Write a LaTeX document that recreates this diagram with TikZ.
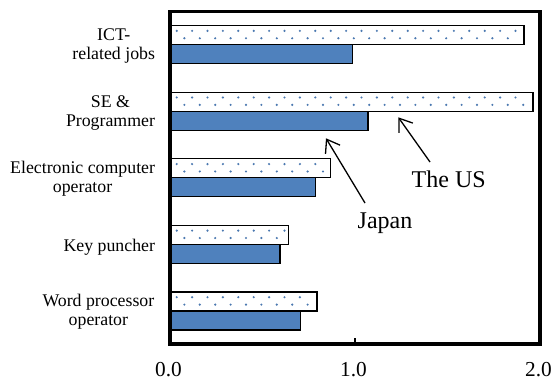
\documentclass[tikz,border=0pt]{standalone}
\usepackage{fontspec}
\setmainfont{Liberation Serif}
\usetikzlibrary{arrows.meta}
\definecolor{barblue}{HTML}{4F81BD}
\definecolor{dotblue}{HTML}{4A78B0}
\begin{document}
\begin{tikzpicture}[x=1pt,y=-1pt,
  frame/.style={line width=3.5pt},
  jpbar/.style={fill=barblue,draw=black,line width=1.2pt},
  usbar/.style={fill=white,draw=black,line width=1.2pt},
  cat/.style={font=\fontsize{17.8}{19}\selectfont,anchor=base,inner sep=0pt},
  ticklab/.style={font=\fontsize{21.3}{22}\selectfont,anchor=base,inner sep=0pt},
  ann/.style={font=\fontsize{24}{26}\selectfont,anchor=base,inner sep=0pt},
  pointer/.style={line width=1.3pt,-{Straight Barb[length=12pt,width=17pt]}}]
\useasboundingbox (0,0) rectangle (555,381);
\foreach \i/\us/\jp in {1/1.914/0.988,2/1.962/1.07,3/0.869/0.788,4/0.642/0.595,5/0.795/0.704}{
  \pgfmathsetmacro\c{11.3+66.58*(\i-0.5)}
  \pgfmathsetmacro\ux{170+185*\us}
  \pgfmathsetmacro\jx{170+185*\jp}
  \draw[usbar] (170,\c-19) rectangle (\ux,\c);
  \draw[jpbar] (170,\c) rectangle (\jx,\c+19);
  \pgfmathtruncatemacro\na{(\ux-3-176.7)/15.4}
  \pgfmathtruncatemacro\nb{(\ux-3-184.4)/15.4}
  \foreach \k in {0,...,\na} \fill[dotblue] (176.7+15.4*\k,\c-13.7) circle (1.2pt);
  \foreach \k in {0,...,\nb} \fill[dotblue] (184.4+15.4*\k,\c-6.3) circle (1.2pt);
}
\draw[frame] (170,11.3) rectangle (540,344.2);
\coordinate (tickbot) at (355,344.2);
\coordinate (ticktop) at (355,338);
\draw[line width=1.2pt] (tickbot) -- (ticktop);
% category labels
\node[cat] (ict1) at (113.7,40.6) {ICT-};
\node[cat] (ict2) at (113.7,59.6) {related jobs};
\node[cat] (se1) at (110.5,107.2) {SE \&};
\node[cat] (se2) at (110.5,126.2) {Programmer};
\node[cat] (ec1) at (82.6,173.7) {Electronic computer};
\node[cat] (ec2) at (82.6,192.7) {operator};
\node[cat] (kp) at (109.3,251.3) {Key puncher};
\node[cat] (wp1) at (98.4,306.9) {Word processor};
\node[cat] (wp2) at (98.4,325.9) {operator};
% axis labels
\node[ticklab] (t0) at (168.5,376.5) {0.0};
\node[ticklab] (t1) at (353.5,376.5) {1.0};
\node[ticklab] (t2) at (538.5,376.5) {2.0};
% annotations
\node[ann] (us) at (448.7,187.5) {The US};
\node[ann] (jp) at (385,228.5) {Japan};
\coordinate (usTail) at (430,162);
\coordinate (usTip) at (398.3,117.3);
\coordinate (jpTail) at (365,203);
\coordinate (jpTip) at (326,138.3);
\draw[pointer] (usTail) -- (usTip);
\draw[pointer] (jpTail) -- (jpTip);
\end{tikzpicture}
\end{document}
